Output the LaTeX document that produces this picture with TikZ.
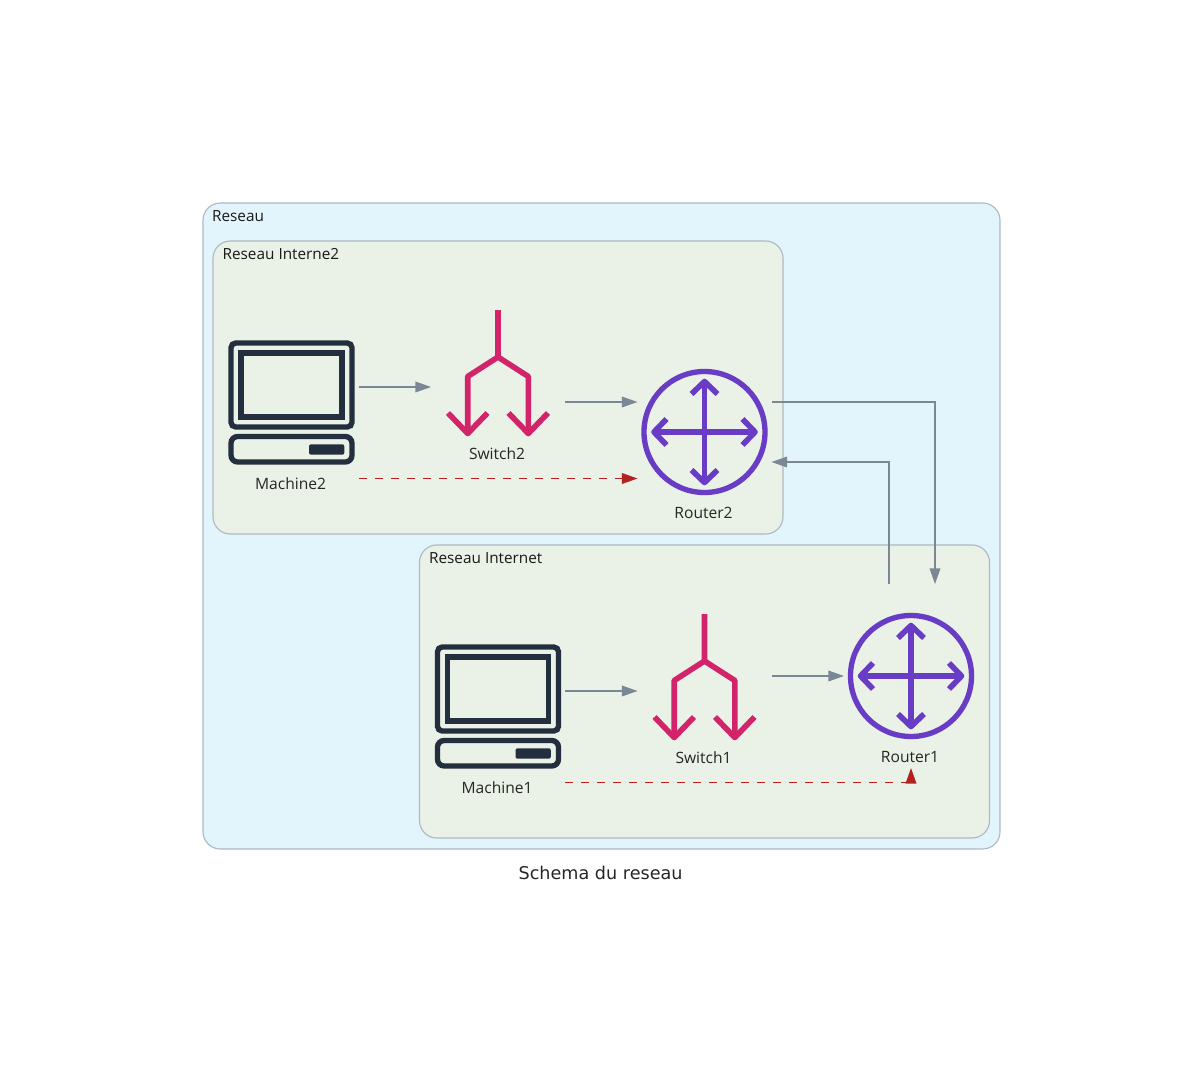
\documentclass[tikz,border=0pt]{standalone}
\usepackage{fontspec}
\setmainfont{Open Sans}
\newfontfamily\captionfont{DejaVu Sans}
\usetikzlibrary{arrows.meta, positioning, calc}
\definecolor{linkgray}{HTML}{7B8794}
\definecolor{linkred}{HTML}{B22222}
\definecolor{framegray}{HTML}{AEB9C4}
\definecolor{outerblue}{HTML}{E2F4FC}
\definecolor{innergreen}{HTML}{EAF1E6}
\definecolor{machinedark}{HTML}{232F3E}
\definecolor{switchpink}{HTML}{D2246A}
\definecolor{routerpurple}{HTML}{693CC5}

\begin{document}
\begin{tikzpicture}[
    x=0.75pt, y=-0.75pt,
    % --- Global Styles ---
    base/.style={rectangle, inner sep=0pt, outer sep=0pt, minimum width=100.5pt, minimum height=98.25pt},
    frame/.style={draw=framegray, line width=0.85pt, rounded corners=13pt, inner sep=0pt, outer sep=0pt},
    outerframe/.style={frame, fill=outerblue, minimum width=597.75pt, minimum height=484.5pt},
    innerframe/.style={frame, fill=innergreen, minimum width=427.5pt, minimum height=219.75pt},
    frametitle/.style={inner sep=0pt, font=\fontsize{11.5}{14}\selectfont, text=black!90},
    nodetext/.style={inner sep=0pt, font=\fontsize{11.7}{14}\selectfont, text=black!85},
    arrow/.style={-{Triangle[length=11.7pt, width=8pt]}, line width=0.95pt, color=linkgray},
    dashed arrow/.style={-{Triangle[length=11.7pt, width=8pt]}, line width=1pt, color=linkred, dash pattern=on 6pt off 6pt},
    machine icon/.pic={
        \draw[machinedark, line width=4pt, rounded corners=3.5pt] (-60.5,-59) rectangle (60.5,25);
        \draw[machinedark, line width=4pt] (-50.5,-49) rectangle (50.5,15);
        \draw[machinedark, line width=4pt, rounded corners=5pt] (-60.5,34.5) rectangle (60.5,60);
        \fill[machinedark, rounded corners=1.5pt] (17.5,42.3) rectangle (52.8,52.7);
    },
    switch icon/.pic={
        \draw[switchpink, line width=4.2pt, line join=round] (0,-62) -- (0,-15) -- (-30.3,4.5) -- (-30.3,62.5);
        \draw[switchpink, line width=4.2pt, line join=round] (0,-15) -- (30.3,4.5) -- (30.3,62.5);
        \draw[switchpink, line width=4.2pt, line join=round] (-50,41) -- (-30.3,61.5) -- (-10.5,41);
        \draw[switchpink, line width=4.2pt, line join=round] (10.5,41) -- (30.3,61.5) -- (50,41);
    },
    router icon/.pic={
        \draw[routerpurple, line width=4pt] (0,0) circle[radius=60.5];
        \draw[routerpurple, line width=4.2pt] (0,-50.5) -- (0,50.5) (-50.5,0) -- (50.5,0);
        \draw[routerpurple, line width=4.2pt, line join=round] (-13,-38) -- (0,-50.5) -- (13,-38);
        \draw[routerpurple, line width=4.2pt, line join=round] (-13,38) -- (0,50.5) -- (13,38);
        \draw[routerpurple, line width=4.2pt, line join=round] (-38,-13) -- (-50.5,0) -- (-38,13);
        \draw[routerpurple, line width=4.2pt, line join=round] (38,-13) -- (50.5,0) -- (38,13);
    }
]
    \useasboundingbox (0,0) rectangle (1203,1085);

    % --- Frames ---
    \node[outerframe] (reseau) at (601.5,526) {};
    \node[innerframe] (interne2) at (498,387.5) {};
    \node[innerframe] (internet) at (704.5,691.5) {};

    \node[frametitle, below right=5.2pt and 6.6pt of reseau.north west] (reseautext) {Reseau};
    \node[frametitle, below right=5.2pt and 7pt of interne2.north west] (interne2text) {Reseau Interne2};
    \node[frametitle, below right=5.2pt and 7pt of internet.north west] (internettext) {Reseau Internet};

    % --- Nodes ---
    \node[base] (machine2) at (291.5,402) {};
    \node[base] (switch2) at (498,372) {};
    \node[base] (router2) at (704.5,432) {};
    \node[base] (machine1) at (498,706) {};
    \node[base] (switch1) at (704.5,676) {};
    \node[base] (router1) at (911,676) {};

    \pic at (machine2.center) {machine icon};
    \pic at (switch2.center) {switch icon};
    \pic at (router2.center) {router icon};
    \pic at (machine1.center) {machine icon};
    \pic at (switch1.center) {switch icon};
    \pic at (router1.center) {router icon};

    \node[nodetext, below=7.6pt of machine2, xshift=-0.7pt] (machine2text) {Machine2};
    \node[nodetext, below=7.6pt of switch2, xshift=-0.7pt] (switch2text) {Switch2};
    \node[nodetext, below=7pt of router2, xshift=-0.7pt] (router2text) {Router2};
    \node[nodetext, below=7.6pt of machine1, xshift=-0.7pt] (machine1text) {Machine1};
    \node[nodetext, below=7.6pt of switch1, xshift=-0.7pt] (switch1text) {Switch1};
    \node[nodetext, below=7pt of router1, xshift=-0.7pt] (router1text) {Router1};

    \node[inner sep=0pt, font=\captionfont\fontsize{13.2}{16}\selectfont, text=black!85, below=13pt of reseau.south, xshift=-0.7pt] (caption) {Schema du reseau};

    % --- Links ---
    \draw[arrow] ($(machine2.east)+(0,-15)$) -- ($(switch2.west)+(0,15)$);
    \draw[arrow] ($(switch2.east)+(0,30)$) -- ($(router2.west)+(0,-30)$);
    \draw[arrow] ($(machine1.east)+(0,-15)$) -- ($(switch1.west)+(0,15)$);
    \draw[arrow] (switch1.east) -- (router1.west);

    \draw[arrow] ($(router2.east)+(0,-30)$) -| ($(router1.north)+(24,-26.5)$);
    \draw[arrow] ($(router1.north)+(-22,-26.5)$) |- ($(router2.east)+(0,30)$);

    % --- Dashed links ---
    \draw[dashed arrow] ($(machine2.east)+(0,76.5)$) -- ($(router2.west)+(0,46.5)$);
    \draw[dashed arrow] ($(machine1.east)+(0,76.5)$) -| ($(router1.south)+(0,26.5)$);

\end{tikzpicture}
\end{document}
